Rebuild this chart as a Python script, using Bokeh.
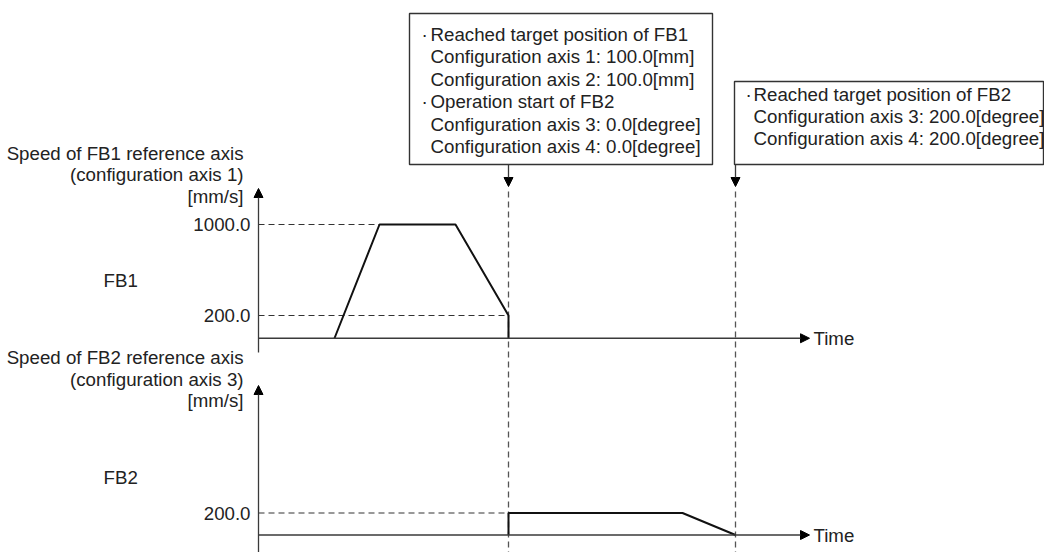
from bokeh.plotting import figure
from bokeh.models import Range1d, Arrow, NormalHead
from bokeh.core.properties import value
from bokeh.embed import file_html
from bokeh.resources import INLINE

# ---------------- data ----------------
fb1_time = [15.2, 24.2, 39.4, 50.0, 50.0]
fb1_speed = [0.0, 1000.0, 1000.0, 200.0, 0.0]
fb2_time = [50.0, 50.0, 84.8, 95.4]
fb2_speed = [0.0, 200.0, 200.0, 0.0]
fb1_ticks = [1000.0, 200.0]
fb2_ticks = [200.0]
event_times = [50.0, 95.4]
time_axis_end = 110.2
fb1_axis_title = ["Speed of FB1 reference axis", "(configuration axis 1)", "[mm/s]"]
fb2_axis_title = ["Speed of FB2 reference axis", "(configuration axis 3)", "[mm/s]"]
panel_names = ["FB1", "FB2"]
time_label = "Time"
box1_lines = ["Reached target position of FB1",
              "Configuration axis 1: 100.0[mm]",
              "Configuration axis 2: 100.0[mm]",
              "Operation start of FB2",
              "Configuration axis 3: 0.0[degree]",
              "Configuration axis 4: 0.0[degree]"]
box1_bullets = [True, False, False, True, False, False]
box2_lines = ["Reached target position of FB2",
              "Configuration axis 3: 200.0[degree]",
              "Configuration axis 4: 200.0[degree]"]
box2_bullets = [True, False, False]

# ---------------- layout (picture pixels) ----------------
W, H = 1044, 552
AX_X = 258.0          # x of the speed axes
PX_PER_T = 5.0        # pixels per time unit
FB1_BASE, FB1_SCALE = 337.75, 0.11375
FB2_BASE, FB2_SCALE = 534.5, 0.11
FONT = value("Liberation Sans")
FS = "18.7px"
TXT = "#222222"
AXC = "#3a3a3a"
DASHC = "#555555"

p = figure(width=W, height=H, output_backend="svg", toolbar_location=None,
           x_range=Range1d(0, W), y_range=Range1d(H, 0),
           x_axis_type=None, y_axis_type=None, min_border=0)
p.outline_line_color = None
p.xgrid.visible = False
p.ygrid.visible = False
p.background_fill_color = "white"
p.border_fill_color = "white"

p.extra_x_ranges = {"t": Range1d(-AX_X / PX_PER_T, (W - AX_X) / PX_PER_T)}
p.extra_y_ranges = {
    "fb1": Range1d((FB1_BASE - H) / FB1_SCALE, FB1_BASE / FB1_SCALE),
    "fb2": Range1d((FB2_BASE - H) / FB2_SCALE, FB2_BASE / FB2_SCALE),
}

def head():
    return NormalHead(size=9, fill_color="black", line_color="black", line_width=1)

# ----- event dashed verticals -----
p.segment(x0=event_times, x1=event_times, y0=[191, 191], y1=[H + 5, H + 5],
          x_range_name="t", line_color=DASHC, line_width=1.3, line_dash="6 4")
for et in event_times:
    p.add_layout(Arrow(end=head(), x_start=et, x_end=et, y_start=164, y_end=186,
                       x_range_name="t", line_color=AXC, line_width=1.3))

# ----- panels -----
panels = [
    ("fb1", fb1_time, fb1_speed, fb1_ticks, fb1_axis_title, [352, 188], [153, 174, 195.5], 280),
    ("fb2", fb2_time, fb2_speed, fb2_ticks, fb2_axis_title, [H + 5, 385], [357, 378.5, 400], 477),
]
for (rn, tt, ss, ticks, title, axy, titley, namey), name in zip(panels, panel_names):
    # dashed reference lines up to where the trace reaches the value
    reach = [tt[ss.index(v)] for v in ticks]
    p.segment(x0=[0.0] * len(ticks), x1=reach, y0=ticks, y1=ticks,
              x_range_name="t", y_range_name=rn,
              line_color="#333333", line_width=1.1, line_dash="6 4")
    # y axis with arrow
    p.add_layout(Arrow(end=head(), x_start=0, x_end=0, y_start=axy[0], y_end=axy[1],
                       x_range_name="t", line_color=AXC, line_width=1.3))
    # time axis with arrow
    p.add_layout(Arrow(end=head(), x_start=0, x_end=time_axis_end, y_start=0, y_end=0,
                       x_range_name="t", y_range_name=rn, line_color=AXC, line_width=1.3))
    # trace
    p.line(tt, ss, x_range_name="t", y_range_name=rn, line_color="#111111", line_width=2)
    # tick labels
    p.text(x=[AX_X - 8] * len(ticks), y=ticks, text=[f"{v:.1f}" for v in ticks],
           y_range_name=rn, text_font=FONT, text_font_size=FS, text_color=TXT,
           text_align="right", text_baseline="middle")
    # axis title
    p.text(x=[AX_X - 15] * 3, y=titley, text=title, text_font=FONT, text_font_size=FS,
           text_color=TXT, text_align="right", text_baseline="middle")
    # panel name
    p.text(x=[103], y=[namey], text=[name], text_font=FONT, text_font_size=FS,
           text_color=TXT, text_align="left", text_baseline="middle")
    # Time label
    p.text(x=[813], y=[0.0], text=[time_label], y_range_name=rn, text_font=FONT,
           text_font_size=FS, text_color=TXT, text_align="left", text_baseline="middle")

# ----- annotation boxes -----
boxes = [
    (box1_lines, box1_bullets, 409, 712, 13, 164, 421, 430, 33.5, 22.5),
    (box2_lines, box2_bullets, 734, 1043, 81, 164, 745, 753, 93.5, 22.0),
]
for lines, bullets, l, r, t, b, bx, tx, y0, dy in boxes:
    p.quad(left=[l], right=[r], top=[t], bottom=[b], fill_color="white",
           line_color="#333333", line_width=1.4)
    ys = [y0 + i * dy for i in range(len(lines))]
    p.text(x=[tx] * len(lines), y=ys, text=lines, text_font=FONT, text_font_size=FS,
           text_color=TXT, text_align="left", text_baseline="middle")
    by = [y for y, bl in zip(ys, bullets) if bl]
    p.text(x=[bx] * len(by), y=by, text=["·"] * len(by), text_font=FONT,
           text_font_size=FS, text_color=TXT, text_align="left", text_baseline="middle")

open("out.html", "w").write(file_html(p, INLINE))
